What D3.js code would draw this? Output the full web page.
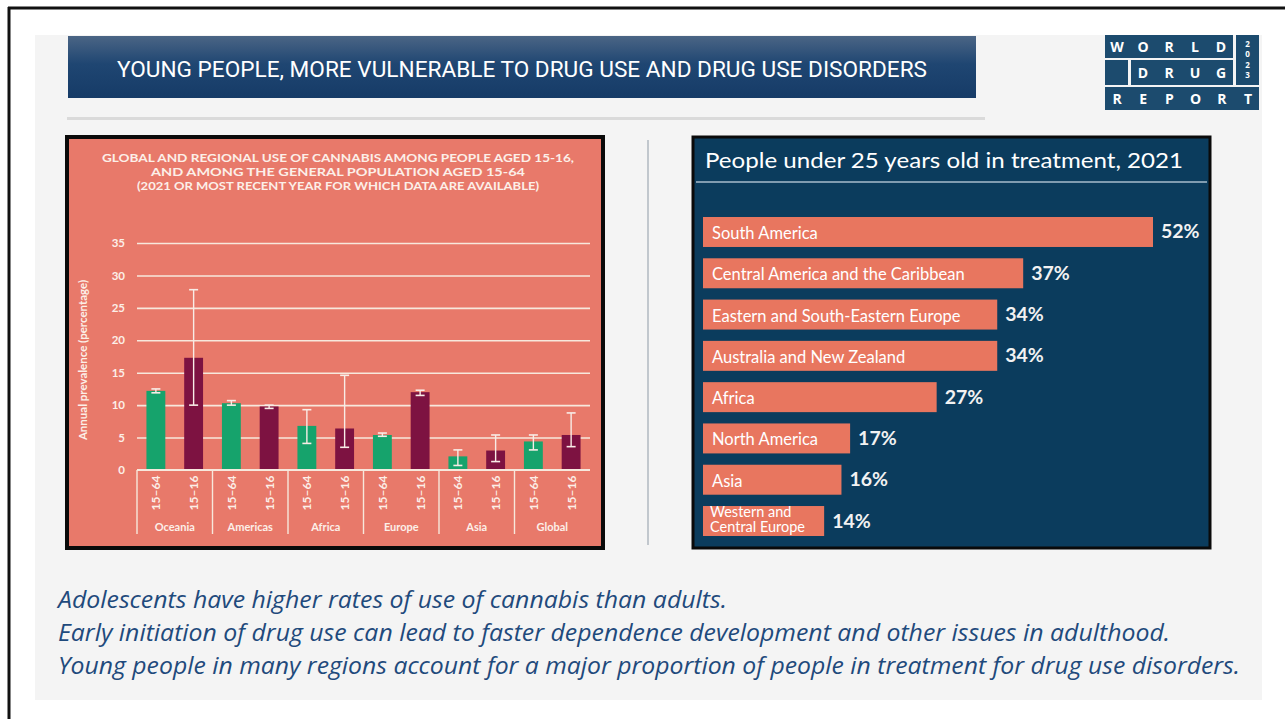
<!DOCTYPE html>
<html>
<head>
<meta charset="utf-8">
<script src="https://cdn.jsdelivr.net/npm/d3@7"></script>
<style>
  html, body { margin: 0; padding: 0; background: #ffffff; }
  svg { display: block; }
</style>
</head>
<body>
<svg id="slide" width="1285" height="719"></svg>
<script>
// ---- Cannabis prevalence by region (percentage), with uncertainty ranges
const regions = ["Oceania", "Americas", "Africa", "Europe", "Asia", "Global"];
const ageGroups = ["15–64", "15–16"];
const adultValues = [12.2, 10.3, 6.8, 5.4, 2.1, 4.4];
const adultLow    = [11.9, 10.0, 4.1, 5.2, 0.7, 3.1];
const adultHigh   = [12.5, 10.7, 9.3, 5.7, 3.1, 5.4];
const youthValues = [17.3, 9.8, 6.4, 12.0, 3.0, 5.4];
const youthLow    = [10.0, 9.5, 3.5, 11.5, 1.3, 3.6];
const youthHigh   = [27.8, 10.0, 14.6, 12.3, 5.4, 8.8];
const prevalenceTicks = [0, 5, 10, 15, 20, 25, 30, 35];

// ---- Share of people in treatment who are under 25 (percentage)
const treatmentRegions = [
  "South America",
  "Central America and the Caribbean",
  "Eastern and South-Eastern Europe",
  "Australia and New Zealand",
  "Africa",
  "North America",
  "Asia",
  "Western and Central Europe"
];
const treatmentShares = [52, 37, 34, 34, 27, 17, 16, 14];

const notes = [
  "Adolescents have higher rates of use of cannabis than adults.",
  "Early initiation of drug use can lead to faster dependence development and other issues in adulthood.",
  "Young people in many regions account for a major proportion of people in treatment for drug use disorders."
];

const svg = d3.select("#slide");

// ---------- page frame ----------
svg.append("rect").attr("x", 0).attr("y", 0).attr("width", 1285).attr("height", 719).attr("fill", "#ffffff");
svg.append("line").attr("x1", 8).attr("x2", 1285).attr("y1", 8).attr("y2", 8)
  .attr("stroke", "#111").attr("stroke-width", 3);
svg.append("line").attr("x1", 9).attr("x2", 9).attr("y1", 7).attr("y2", 719)
  .attr("stroke", "#111").attr("stroke-width", 3);
svg.append("rect").attr("x", 35).attr("y", 35).attr("width", 1227).attr("height", 665).attr("fill", "#f4f4f4");

// ---------- title banner ----------
const defs = svg.append("defs");
const grad = defs.append("linearGradient").attr("id", "bannerGrad")
  .attr("x1", 0).attr("x2", 0).attr("y1", 0).attr("y2", 1);
grad.append("stop").attr("offset", "0%").attr("stop-color", "#4b6585");
grad.append("stop").attr("offset", "45%").attr("stop-color", "#1f4672");
grad.append("stop").attr("offset", "100%").attr("stop-color", "#163b67");

svg.append("rect").attr("x", 68).attr("y", 36).attr("width", 908).attr("height", 62)
  .attr("fill", "url(#bannerGrad)");
svg.append("text").attr("x", 522).attr("y", 77)
  .attr("text-anchor", "middle")
  .attr("font-family", "Roboto, 'Liberation Sans', sans-serif")
  .attr("font-size", 22)
  .attr("fill", "#ffffff")
  .attr("textLength", 810).attr("lengthAdjust", "spacingAndGlyphs")
  .text("YOUNG PEOPLE, MORE VULNERABLE TO DRUG USE AND DRUG USE DISORDERS");

svg.append("rect").attr("x", 67).attr("y", 117).attr("width", 918).attr("height", 3).attr("fill", "#dadada");

// ---------- report logo ----------
const logo = svg.append("g");
const logoBlue = "#1c4b6e";
[[1105, 35, 128, 23], [1236, 35, 23, 50], [1105, 60, 23, 25], [1131, 60, 102, 25], [1105, 87, 154, 23]]
  .forEach(([x, y, w, h]) => logo.append("rect").attr("x", x).attr("y", y).attr("width", w).attr("height", h).attr("fill", logoBlue));
const logoFont = "'Open Sans', 'DejaVu Sans', sans-serif";
function logoWord(word, x0, x1, y) {
  const pos = d3.scalePoint().domain(d3.range(word.length)).range([x0, x1]);
  word.split("").forEach((ch, i) => {
    logo.append("text").attr("x", pos(i)).attr("y", y)
      .attr("text-anchor", "middle").attr("font-family", logoFont)
      .attr("font-weight", 700).attr("font-size", 14).attr("fill", "#fff").text(ch);
  });
}
logoWord("WORLD", 1117, 1221, 52);
logoWord("DRUG", 1143, 1221, 78);
logoWord("REPORT", 1117, 1248, 104);
const yearPos = d3.scalePoint().domain(d3.range(4)).range([44, 75]);
"2023".split("").forEach((ch, i) => {
  logo.append("text").attr("x", 1247.5).attr("y", yearPos(i) + 3)
    .attr("text-anchor", "middle").attr("font-family", logoFont)
    .attr("font-weight", 700).attr("font-size", 8).attr("fill", "#fff").text(ch);
});

// ---------- divider between the two panels ----------
svg.append("line").attr("x1", 648).attr("x2", 648).attr("y1", 140).attr("y2", 545)
  .attr("stroke", "#8e9aa6").attr("stroke-width", 1);

// ---------- left panel: cannabis prevalence ----------
const salmon = "#e8796a";
const light = "#f7e8dc";
const textLight = "#fcefe8";
const left = svg.append("g");
left.append("rect").attr("x", 67).attr("y", 137).attr("width", 536).attr("height", 411)
  .attr("fill", salmon).attr("stroke", "#0a0a0a").attr("stroke-width", 4);

const leftFont = "Lato, 'Open Sans', sans-serif";
const leftTitle = [
  "GLOBAL AND REGIONAL USE OF CANNABIS AMONG PEOPLE AGED 15-16,",
  "AND AMONG THE GENERAL POPULATION AGED 15-64",
  "(2021 OR MOST RECENT YEAR FOR WHICH DATA ARE AVAILABLE)"
];
const leftTitleWidths = [472, 374, 402];
left.selectAll("text.ltitle").data(leftTitle).join("text")
  .attr("class", "ltitle")
  .attr("x", 338).attr("y", (d, i) => 162 + i * 14)
  .attr("text-anchor", "middle")
  .attr("font-family", leftFont).attr("font-weight", 700).attr("font-size", 12)
  .attr("textLength", (d, i) => leftTitleWidths[i]).attr("lengthAdjust", "spacingAndGlyphs")
  .attr("fill", textLight)
  .text(d => d);

const x0 = d3.scaleBand().domain(regions).range([137, 590]);
const x1 = d3.scaleBand().domain(ageGroups).range([0, x0.bandwidth()])
  .paddingInner(0.5).paddingOuter(0.25);
const y = d3.scaleLinear().domain([0, 35]).range([470, 243]);

// gridlines and tick labels
const yAxis = d3.axisLeft(y).tickValues(prevalenceTicks).tickSize(-(590 - 137)).tickPadding(12);
const yG = left.append("g").attr("transform", "translate(137,0)").call(yAxis);
yG.select(".domain").remove();
yG.selectAll(".tick line").attr("stroke", light).attr("stroke-width", 1.6)
  .attr("opacity", d => d === 0 ? 0 : 1);
yG.selectAll(".tick text")
  .attr("font-family", leftFont).attr("font-weight", 700).attr("font-size", 11.5)
  .attr("fill", textLight);

left.append("text")
  .attr("transform", "translate(87,360) rotate(-90)")
  .attr("text-anchor", "middle")
  .attr("font-family", leftFont).attr("font-weight", 700).attr("font-size", 11.5)
  .attr("fill", textLight)
  .text("Annual prevalence (percentage)");

// bars
const series = [
  { group: ageGroups[0], values: adultValues, low: adultLow, high: adultHigh, color: "#16a36c" },
  { group: ageGroups[1], values: youthValues, low: youthLow, high: youthHigh, color: "#7d1241" }
];
const rows = [];
regions.forEach((r, i) => series.forEach(s => rows.push({
  region: r, group: s.group, value: s.values[i], low: s.low[i], high: s.high[i], color: s.color
})));

left.selectAll("rect.bar").data(rows).join("rect")
  .attr("class", "bar")
  .attr("x", d => x0(d.region) + x1(d.group))
  .attr("width", x1.bandwidth())
  .attr("y", d => y(d.value))
  .attr("height", d => y(0) - y(d.value))
  .attr("fill", d => d.color);

// uncertainty ranges
const eb = left.selectAll("g.err").data(rows).join("g").attr("class", "err")
  .attr("transform", d => `translate(${x0(d.region) + x1(d.group) + x1.bandwidth() / 2},0)`);
eb.append("line").attr("x1", 0).attr("x2", 0)
  .attr("y1", d => y(d.low)).attr("y2", d => y(d.high))
  .attr("stroke", "#f8ece6").attr("stroke-width", 1.4);
eb.append("line").attr("x1", -4.5).attr("x2", 4.5)
  .attr("y1", d => y(d.low)).attr("y2", d => y(d.low))
  .attr("stroke", "#f8ece6").attr("stroke-width", 1.6);
eb.append("line").attr("x1", -4.5).attr("x2", 4.5)
  .attr("y1", d => y(d.high)).attr("y2", d => y(d.high))
  .attr("stroke", "#f8ece6").attr("stroke-width", 1.6);

// category axis with two levels
left.append("line").attr("x1", x0.range()[0]).attr("x2", x0.range()[1])
  .attr("y1", y(0)).attr("y2", y(0)).attr("stroke", light).attr("stroke-width", 1.8);
const sepX = regions.map(r => x0(r));
left.selectAll("line.sep").data(sepX).join("line").attr("class", "sep")
  .attr("x1", d => d).attr("x2", d => d)
  .attr("y1", y(0)).attr("y2", 534)
  .attr("stroke", light).attr("stroke-width", 1.4);

left.selectAll("text.age").data(rows).join("text").attr("class", "age")
  .attr("transform", d => `translate(${x0(d.region) + x1(d.group) + x1.bandwidth() / 2 + 4.5},493) rotate(-90)`)
  .attr("text-anchor", "middle")
  .attr("font-family", leftFont).attr("font-weight", 700).attr("font-size", 12)
  .attr("fill", textLight)
  .text(d => d.group);

left.selectAll("text.region").data(regions).join("text").attr("class", "region")
  .attr("x", d => x0(d) + x0.bandwidth() / 2).attr("y", 531)
  .attr("text-anchor", "middle")
  .attr("font-family", leftFont).attr("font-weight", 700).attr("font-size", 11)
  .attr("fill", textLight)
  .text(d => d);

// ---------- right panel: people under 25 in treatment ----------
const right = svg.append("g");
right.append("rect").attr("x", 693).attr("y", 137).attr("width", 517).attr("height", 411)
  .attr("fill", "#0b3c5d").attr("stroke", "#0a0a0a").attr("stroke-width", 3);
const rightFont = "Lato, 'Open Sans', sans-serif";
right.append("text").attr("x", 705).attr("y", 168)
  .attr("font-family", rightFont).attr("font-size", 22).attr("fill", "#ffffff")
  .attr("textLength", 478).attr("lengthAdjust", "spacingAndGlyphs")
  .text("People under 25 years old in treatment, 2021");
right.append("line").attr("x1", 696).attr("x2", 1207).attr("y1", 182).attr("y2", 182)
  .attr("stroke", "#a9bccd").attr("stroke-width", 1.5);

const ty = d3.scaleBand().domain(treatmentRegions).range([217, 536]).paddingInner(0.274).paddingOuter(0);
const tx = d3.scaleLinear().domain([0, 52]).range([703, 1153]);
const tRows = treatmentRegions.map((r, i) => ({ region: r, share: treatmentShares[i] }));

right.selectAll("rect.tbar").data(tRows).join("rect").attr("class", "tbar")
  .attr("x", tx(0)).attr("y", d => ty(d.region))
  .attr("width", d => tx(d.share) - tx(0)).attr("height", ty.bandwidth())
  .attr("fill", "#e8765f");

right.selectAll("text.tval").data(tRows).join("text").attr("class", "tval")
  .attr("x", d => tx(d.share) + 8)
  .attr("y", d => ty(d.region) + ty.bandwidth() / 2 - 1)
  .attr("dominant-baseline", "central")
  .attr("font-family", rightFont).attr("font-size", 19.5).attr("font-weight", 700)
  .attr("fill", "#f2f2f2")
  .text(d => d.share + "%");

tRows.forEach(d => {
  const lines = d.region === "Western and Central Europe"
    ? ["Western and", "Central Europe"] : [d.region];
  const t = right.append("text")
    .attr("font-family", rightFont).attr("fill", "#ffffff")
    .attr("font-size", lines.length > 1 ? 14.5 : 16.5);
  if (lines.length > 1) {
    lines.forEach((w, i) => t.append("tspan")
      .attr("x", tx(0) + 7).attr("y", ty(d.region) + 11 + i * 15).text(w));
  } else {
    t.attr("x", tx(0) + 9).attr("y", ty(d.region) + ty.bandwidth() / 2 + 1)
      .attr("dominant-baseline", "central").text(d.region);
  }
});

// ---------- key messages ----------
const noteWidths = [669, 1112, 1182];
svg.selectAll("text.note").data(notes).join("text").attr("class", "note")
  .attr("x", 58).attr("y", (d, i) => 608 + i * 33)
  .attr("font-family", "'Open Sans', 'Noto Sans', sans-serif")
  .attr("font-style", "italic").attr("font-weight", 400).attr("font-size", 24.5)
  .attr("fill", "#1f4a7c")
  .attr("textLength", (d, i) => noteWidths[i]).attr("lengthAdjust", "spacingAndGlyphs")
  .text(d => d);
</script>
</body>
</html>
